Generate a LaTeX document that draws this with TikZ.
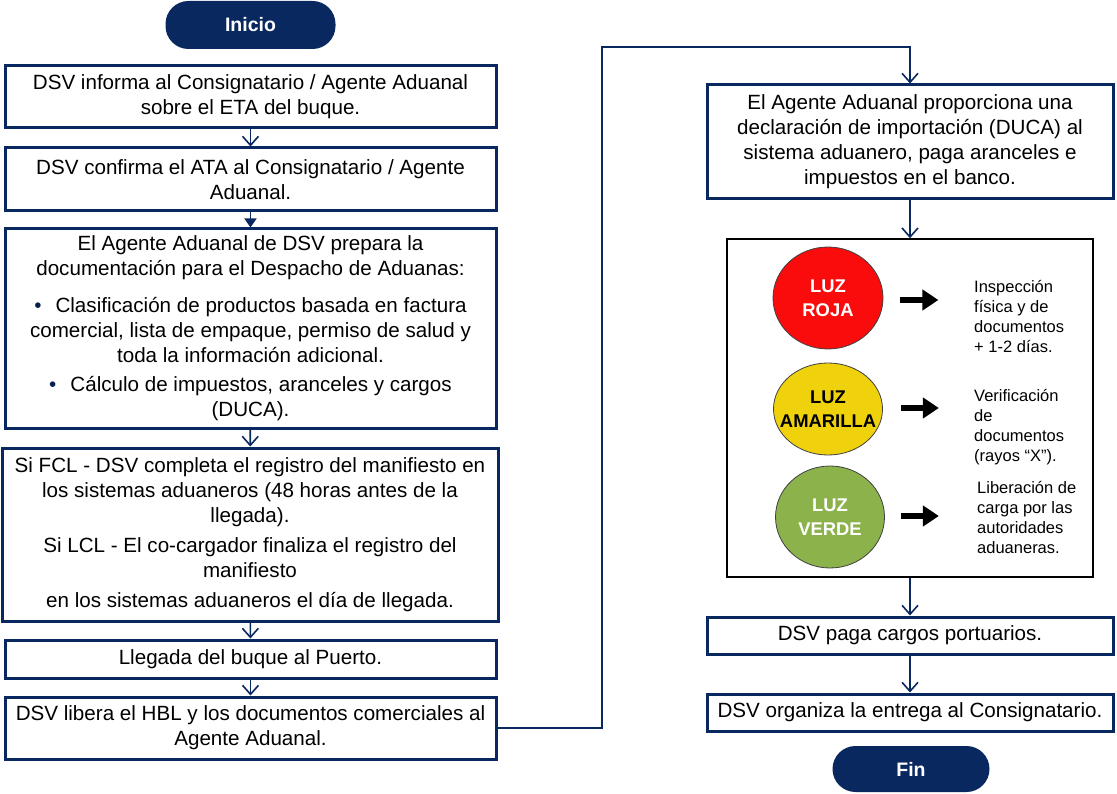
\documentclass[tikz,border=0pt]{standalone}
\usepackage{fontspec}
\setmainfont{Liberation Sans}
\usetikzlibrary{arrows.meta,shapes.geometric,calc}
\definecolor{navy}{RGB}{10,40,96}
\definecolor{luzroja}{RGB}{250,12,12}
\definecolor{luzamar}{RGB}{240,210,12}
\definecolor{luzverde}{RGB}{140,178,76}
\begin{document}
\begin{tikzpicture}[x=1pt,y=-1pt,
  stepbox/.style={draw=navy,line width=3pt,align=center,inner sep=0pt,
    font=\fontsize{20.6}{25}\selectfont,text=black},
  terminal/.style={fill=navy,rounded corners=23pt,text=white,inner sep=0pt,
    font=\fontsize{19.5}{23}\selectfont\bfseries},
  varrow/.style={draw=navy,line width=1.6pt,
    -{Straight Barb[length=9pt,width=16pt,line width=1.6pt]}},
  farrow/.style={draw=navy,line width=1.6pt,-{Triangle[length=9pt,width=12pt]}},
  luz/.style={ellipse,draw=black!75,line width=0.8pt,inner sep=0pt},
  luzlab/.style={align=center,inner sep=0pt,font=\fontsize{18.4}{24}\selectfont\bfseries},
  luztext/.style={anchor=west,align=left,inner sep=0pt,
    font=\fontsize{16.5}{20}\selectfont},
  blackarrow/.style={draw=black,line width=6pt,-{Triangle[length=16pt,width=20pt]}}
]
\useasboundingbox (0,0) rectangle (1117,794);

% left column
\node[terminal,minimum width=170pt,minimum height=48pt] (ini) at (250.5,25) {Inicio};
\node[stepbox,minimum width=491pt,minimum height=62pt] (b1) at (250.5,97)
  {DSV informa al Consignatario / Agente Aduanal\\sobre el ETA del buque.};
\node[stepbox,minimum width=491pt,minimum height=63pt] (b2) at (250.5,179.5)
  {DSV confirma el ATA al Consignatario / Agente\\Aduanal.};
\node[stepbox,minimum width=491pt,minimum height=199pt] (b3) at (250.5,328.5)
  {El Agente Aduanal de DSV prepara la\\
   documentación para el Despacho de Aduanas:\\[12pt]
   {\color{navy!80!black}\textbullet}\hspace{14pt}Clasificación de productos basada en factura\\
   comercial, lista de empaque, permiso de salud y\\
   toda la información adicional.\\[4pt]
   {\color{navy!80!black}\textbullet}\hspace{14pt}Cálculo de impuestos, aranceles y cargos\\
   (DUCA).};
\node[stepbox,minimum width=496pt,minimum height=173pt] (b4) at (250,534.5)
  {Si FCL - DSV completa el registro del manifiesto en\\
   los sistemas aduaneros (48 horas antes de la\\
   llegada).\\[5pt]
   Si LCL - El co-cargador finaliza el registro del\\
   manifiesto\\[5pt]
   en los sistemas aduaneros el día de llegada.};
\node[stepbox,minimum width=491pt,minimum height=38pt] (b5) at (250.5,659)
  {Llegada del buque al Puerto.};
\node[stepbox,minimum width=491pt,minimum height=62pt] (b6) at (250.5,728)
  {DSV libera el HBL y los documentos comerciales al\\Agente Aduanal.};

% right column
\node[stepbox,minimum width=406pt,minimum height=114pt] (b7) at (910,142)
  {El Agente Aduanal proporciona una\\
   declaración de importación (DUCA) al\\
   sistema aduanero, paga aranceles e\\
   impuestos en el banco.};
\node[draw=black,line width=1.6pt,minimum width=366pt,minimum height=338pt,inner sep=0pt] (b8) at (910,408) {};
\node[stepbox,minimum width=406pt,minimum height=37pt] (b9) at (910,635.5)
  {DSV paga cargos portuarios.};
\node[stepbox,minimum width=406pt,minimum height=37pt] (b10) at (910,712.5)
  {DSV organiza la entrega al Consignatario.};
\node[terminal,minimum width=157pt,minimum height=46pt] (fin) at (911,769) {Fin};

% lights
\node[luz,fill=luzroja,minimum width=110pt,minimum height=102pt,
  label={[luzlab,text=white]center:{LUZ\\ROJA}}] (roja) at (828,298) {};
\node[luz,fill=luzamar,minimum width=109pt,minimum height=92pt,
  label={[luzlab,text=black]center:{LUZ\\AMARILLA}}] (amar) at (828,409) {};
\node[luz,fill=luzverde,minimum width=109pt,minimum height=102pt,
  label={[luzlab,text=white]center:{LUZ\\VERDE}}] (verde) at (830,517) {};

\node[luztext] (troja) at (974,317) {Inspección\\física y de\\documentos\\+ 1-2 días.};
\node[luztext] (tamar) at (974,427) {Verificación\\de\\documentos\\(rayos “X”).};
\node[luztext] (tverde) at (977,518) {Liberación de\\carga por las\\autoridades\\aduaneras.};

\draw[blackarrow] ($(roja.east)+(17,2)$) -- ($(roja.east)+(55,2)$);
\draw[blackarrow] ($(amar.east)+(18,-1)$) -- ($(amar.east)+(56,-1)$);
\draw[blackarrow] ($(verde.east)+(16,-1)$) -- ($(verde.east)+(54,-1)$);

% connectors
\draw[varrow] (b1) -- (b2);
\draw[farrow] (b2) -- (b3);
\draw[varrow] (b3) -- (b4);
\draw[varrow] (b4) -- (b5);
\draw[varrow] (b5) -- (b6);
\coordinate (k1) at (602,47);
\draw[varrow] (b6.east) -| (k1) -| (b7.north);
\draw[varrow] (b7) -- (b8);
\draw[varrow] (b8) -- (b9);
\draw[varrow] (b9) -- (b10);
\end{tikzpicture}
\end{document}
